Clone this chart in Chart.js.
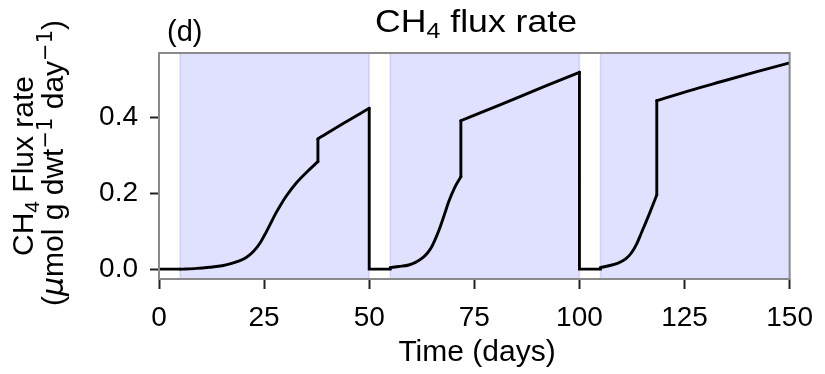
<!DOCTYPE html>
<html>
<head>
<meta charset="utf-8">
<script src="https://cdn.jsdelivr.net/npm/chart.js@4.4.1/dist/chart.umd.min.js"></script>
<style>
  html, body { margin: 0; padding: 0; background: #fff; }
  #wrap { width: 825px; height: 374px; position: relative; }
</style>
</head>
<body>
<div id="wrap"><canvas id="chart"></canvas></div>
<script>
// ── Data ─────────────────────────────────────────────────────────
// smooth parts of the flux curve (null flux = break between pieces)
const days = [
  5, 9, 12, 15, 17.5, 20, 21.5, 23.1, 24.3, 25.4, 26.6, 27.8, 29, 30.2, 32.6, 35.3, 37.8, 37.8,
  37.8, 44, 50, 50,
  55, 57, 59.4, 61, 62.6, 63.8, 64.9, 65.9, 66.9, 68, 68.9, 70.3, 71.8, 71.8,
  71.8, 78, 84, 92, 100, 100,
  105, 107, 109.2, 111, 112.3, 113.6, 114.7, 115.7, 116.7, 118.4, 118.4,
  118.4, 126, 133.6, 142, 150
];
const flux = [
  0, 0.002, 0.005, 0.009, 0.016, 0.026, 0.037, 0.055, 0.074, 0.096, 0.122, 0.148, 0.171, 0.192, 0.227, 0.258, 0.284, null,
  0.344, 0.386, 0.425, null,
  0.004, 0.007, 0.011, 0.018, 0.029, 0.042, 0.060, 0.084, 0.112, 0.148, 0.178, 0.215, 0.244, null,
  0.392, 0.420, 0.447, 0.484, 0.520, null,
  0.004, 0.009, 0.016, 0.027, 0.042, 0.066, 0.095, 0.121, 0.148, 0.196, null,
  0.445, 0.471, 0.495, 0.521, 0.545
];
// straight pieces: flat zeros, jumps and drops
const stepDays = [0, 5, 5, 37.8, 37.8, 37.8, 50, 50, 55, 55, 55, 71.8, 71.8, 71.8, 100, 100, 105, 105, 105, 118.4, 118.4];
const stepFlux = [0, 0, null, 0.284, 0.344, null, 0.425, 0, 0, 0.004, null, 0.244, 0.392, null, 0.520, 0, 0, 0.004, null, 0.196, 0.445];

const wetSpans = [[5, 50], [55, 100], [105, 150]];
const xTicks = [0, 25, 50, 75, 100, 125, 150];
const yTicks = [0, 0.2, 0.4];

const FONT = '"Liberation Sans", Arial, sans-serif';
const MATH = '"DejaVu Sans", sans-serif';

// ── Rich text helper (sub / superscripts, italic) ─────────────────
function partFont(kind, size) {
  const s = (kind === "sub" || kind === "sup") ? size * 0.7 : size;
  if (kind === "it") return "italic " + s + "px " + MATH;
  if (kind === "sup") return s + "px " + MATH;
  return s + "px " + FONT;
}
function drawRich(ctx, parts, cx, y, size, align, width) {
  let w = 0;
  parts.forEach(([t, k]) => { ctx.font = partFont(k, size); w += ctx.measureText(t).width; });
  const sx = width ? width / w : 1;
  ctx.save();
  ctx.translate(align === "left" ? cx : cx - (w * sx) / 2, y);
  ctx.scale(sx, 1);
  ctx.textAlign = "left";
  ctx.textBaseline = "alphabetic";
  let x = 0;
  parts.forEach(([t, k]) => {
    ctx.font = partFont(k, size);
    const dy = k === "sub" ? size * 0.2 : k === "sup" ? -size * 0.38 : 0;
    ctx.fillText(t, x, dy);
    x += ctx.measureText(t).width;
  });
  ctx.restore();
}

// ── Plugins: shaded spans, frame, texts ───────────────────────────
const spans = {
  id: "spans",
  beforeDatasetsDraw(chart) {
    const { ctx, chartArea: a, scales: { x } } = chart;
    ctx.save();
    ctx.beginPath(); ctx.rect(a.left, a.top, a.right - a.left, a.bottom - a.top); ctx.clip();
    wetSpans.forEach(([s, e]) => {
      const x0 = x.getPixelForValue(s), x1 = x.getPixelForValue(e);
      ctx.fillStyle = "rgba(0,0,255,0.12)";
      ctx.fillRect(x0, a.top, x1 - x0, a.bottom - a.top);
      ctx.strokeStyle = "rgba(0,0,255,0.12)";
      ctx.lineWidth = 1.5;
      ctx.strokeRect(x0, a.top, x1 - x0, a.bottom - a.top);
    });
    ctx.restore();
  }
};

const frame = {
  id: "frame",
  afterDatasetsDraw(chart) {
    const { ctx, chartArea: a } = chart;
    ctx.save();
    ctx.strokeStyle = "#8a8a8a";
    ctx.lineWidth = 2;
    ctx.strokeRect(a.left, a.top, a.right - a.left, a.bottom - a.top);
    ctx.restore();
  }
};

const texts = {
  id: "texts",
  afterDraw(chart) {
    const { ctx } = chart;
    ctx.save();
    ctx.fillStyle = "#000";
    drawRich(ctx, [["CH", ""], ["4", "sub"], [" flux rate", ""]], 476, 32, 32, "center", 202);
    drawRich(ctx, [["(d)", ""]], 167, 41, 29, "left");
    drawRich(ctx, [["Time (days)", ""]], 477, 361, 30);

    ctx.translate(33, 166);
    ctx.rotate(-Math.PI / 2);
    drawRich(ctx, [["CH", ""], ["4", "sub"], [" Flux rate", ""]], 0, 0, 30);
    ctx.rotate(Math.PI / 2);
    ctx.translate(30, -3);
    ctx.rotate(-Math.PI / 2);
    drawRich(ctx, [["(", ""], ["\u03bc", "it"], ["mol g dwt", ""], ["\u22121", "sup"],
                   [" day", ""], ["\u22121", "sup"], [")", ""]], 0, 0, 30);
    ctx.restore();
  }
};

// ── Chart ─────────────────────────────────────────────────────────
const ctx = document.getElementById("chart").getContext("2d");
new Chart(ctx, {
  type: "line",
  data: {
    datasets: [
      {
        data: days.map((d, i) => ({ x: d, y: flux[i] })),
        borderColor: "#000",
        borderWidth: 2.9,
        borderCapStyle: "round",
        pointRadius: 0,
        cubicInterpolationMode: "monotone",
        spanGaps: false
      },
      {
        data: stepDays.map((d, i) => ({ x: d, y: stepFlux[i] })),
        borderColor: "#000",
        borderWidth: 2.9,
        borderCapStyle: "round",
        pointRadius: 0,
        tension: 0,
        spanGaps: false
      }
    ]
  },
  options: {
    responsive: true,
    maintainAspectRatio: false,
    animation: false,
    layout: { padding: { left: 0, top: 53, right: 32, bottom: 0 } },
    plugins: { legend: { display: false }, tooltip: { enabled: false }, title: { display: false } },
    scales: {
      x: {
        type: "linear",
        min: 0, max: 150,
        afterBuildTicks: s => { s.ticks = xTicks.map(v => ({ value: v })); },
        afterFit: s => { s.height = 95; },
        ticks: { color: "#000", font: { family: FONT, size: 28 }, padding: 12, maxRotation: 0,
                 callback: v => String(v) },
        grid: { drawOnChartArea: false, drawTicks: true, tickLength: 10, tickColor: "#222", tickWidth: 2 },
        border: { display: false }
      },
      y: {
        min: -0.026, max: 0.571,
        afterBuildTicks: s => { s.ticks = yTicks.map(v => ({ value: v })); },
        afterFit: s => { s.width = 159; },
        ticks: { color: "#000", font: { family: FONT, size: 28 }, padding: 12,
                 callback: v => v.toFixed(1) },
        grid: { drawOnChartArea: false, drawTicks: true, tickLength: 9, tickColor: "#222", tickWidth: 2 },
        border: { display: false }
      }
    }
  },
  plugins: [spans, frame, texts]
});
</script>
</body>
</html>
